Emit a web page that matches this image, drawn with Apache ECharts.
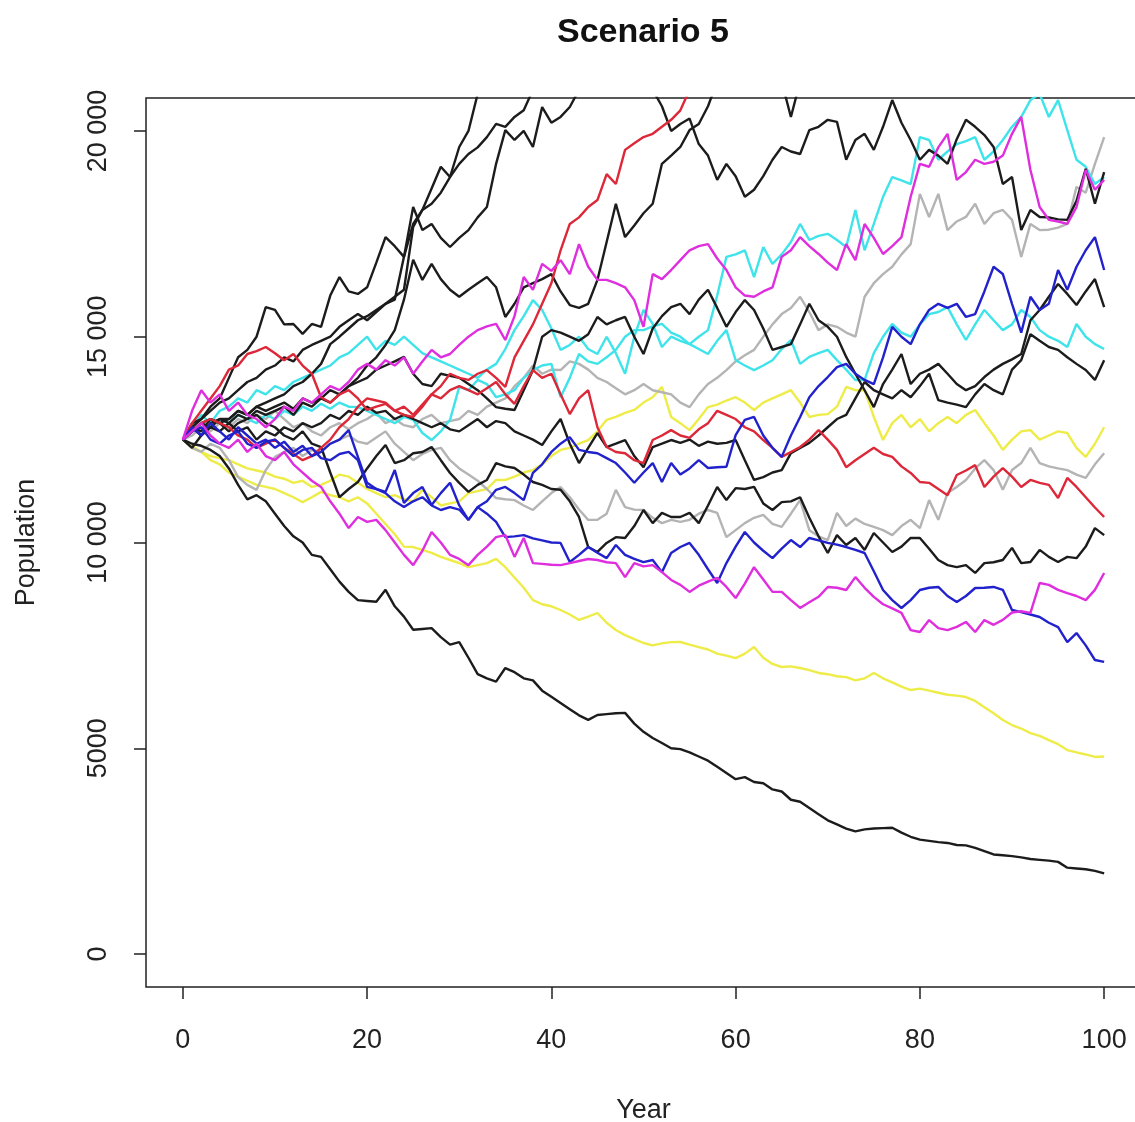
<!DOCTYPE html>
<html><head><meta charset="utf-8">
<script src="https://cdn.jsdelivr.net/npm/echarts@6/dist/echarts.min.js"></script>
<style>html,body{margin:0;padding:0;background:#fff}#c{width:1135px;height:1122px}</style>
</head><body><div id="c"></div>
<script>
const years = [0,1,2,3,4,5,6,7,8,9,10,11,12,13,14,15,16,17,18,19,20,21,22,23,24,25,26,27,28,29,30,31,32,33,34,35,36,37,38,39,40,41,42,43,44,45,46,47,48,49,50,51,52,53,54,55,56,57,58,59,60,61,62,63,64,65,66,67,68,69,70,71,72,73,74,75,76,77,78,79,80,81,82,83,84,85,86,87,88,89,90,91,92,93,94,95,96,97,98,99,100];
const xTicks = [0,20,40,60,80,100];
const yTicks = [0,5000,10000,15000,20000];

const blackA = [12500,12400,12350,12250,12100,11800,11400,11050,11150,11000,
10700,10400,10150,10000,9700,9650,9350,9050,8800,8600,
8580,8560,8850,8450,8200,7880,7900,7920,7700,7520,
7580,7200,6800,6700,6620,6950,6850,6700,6650,6400,
6250,6100,5950,5800,5690,5810,5830,5850,5860,5600,
5400,5250,5130,5000,4980,4900,4800,4700,4550,4400,
4250,4300,4180,4150,4000,3950,3750,3700,3550,3400,
3250,3150,3050,2980,3030,3050,3060,3070,2950,2850,
2780,2750,2720,2700,2650,2640,2580,2500,2420,2400,
2380,2350,2310,2290,2270,2240,2100,2080,2060,2020,
1960];
const yellowB = [12500,12300,12200,12000,11900,11700,11600,11500,11400,11350,
11300,11200,11100,10980,11100,11230,11150,11100,11000,11100,
10950,10700,10450,10200,9900,9890,9820,9750,9650,9575,
9500,9400,9450,9500,9600,9400,9150,8900,8600,8500,
8450,8360,8250,8117,8200,8287,8050,7873,7750,7650,
7558,7500,7550,7580,7582,7520,7460,7400,7300,7250,
7190,7300,7460,7200,7050,6975,6990,6950,6900,6830,
6800,6750,6730,6650,6700,6830,6700,6600,6500,6415,
6450,6400,6350,6300,6280,6245,6150,6000,5850,5686,
5565,5480,5370,5300,5200,5100,4957,4900,4850,4790,
4800];
const yellowC = [12500,12350,12200,12100,12050,12000,11900,11800,11750,11700,
11600,11550,11450,11500,11350,11400,11500,11650,11600,11450,
11300,11200,11100,11150,11050,11000,11280,11100,10900,10950,
11000,11200,11250,11300,11520,11520,11600,11700,11760,11900,
12100,12250,12300,12400,12490,12700,12980,13050,13150,13220,
13400,13530,13780,13050,12900,12730,13000,13290,13350,13450,
13530,13400,13220,13400,13500,13600,13700,13400,13050,13100,
13120,13300,13780,13700,13700,13050,12490,12900,13100,12800,
13000,12700,12900,13050,12900,13100,13220,12900,12600,12250,
12500,12700,12730,12500,12600,12700,12660,12300,12080,12400,
12800];
const blueD = [12500,12700,12800,12500,12400,12600,12700,12400,12300,12450,
12500,12300,12100,12250,12300,12050,12000,12150,12200,12000,
11350,11300,11200,11000,10860,11000,11100,10900,10790,10860,
10800,10550,10860,10700,10500,10130,10150,10180,10100,10050,
10000,9990,9525,9700,9890,9750,9620,9940,9700,9600,
9525,9575,9280,9745,9890,9990,9700,9350,9015,9500,
9900,10255,10000,9800,9620,9850,10060,9890,10110,10050,
9990,9950,9890,9820,9745,9300,8846,8600,8408,8600,
8846,8900,8920,8700,8554,8700,8894,8900,8920,8850,
8360,8310,8250,8190,8050,7946,7580,7800,7500,7145,
7100];
const blueE = [12500,12800,12600,12900,12700,12500,12800,12600,12400,12500,
12300,12450,12200,12350,12100,12200,12400,12500,12730,12080,
11450,11300,11230,11760,10960,11200,11350,10910,11200,11450,
10900,10550,10860,11000,11280,11350,11200,11030,11690,11900,
12200,12400,12560,12250,12200,12170,12050,11930,11700,11450,
11700,11930,11470,11930,11650,11800,12000,11810,11830,11840,
12610,12980,13050,12600,12300,12080,12600,13050,13530,13800,
14020,14260,14340,14100,13950,13850,14500,15240,15000,14820,
15300,15650,15800,15700,15800,15480,15550,16100,16700,16525,
15800,15100,15970,15650,15800,16620,16140,16700,17100,17420,
16620];
const magentaM1 = [12500,12700,12900,12600,12400,12300,12500,12200,12400,12100,
12000,12200,11900,11700,11500,11350,11000,10700,10350,10620,
10500,10550,10300,10000,9700,9450,9800,10255,10000,9700,
9600,9450,9700,9900,10130,10180,9650,10110,9500,9480,
9460,9450,9500,9550,9600,9575,9520,9500,9160,9500,
9420,9450,9280,9090,8970,8800,8950,9050,9140,8920,
8650,9000,9400,9100,8800,8800,8600,8410,8550,8680,
8920,8900,8846,9160,8900,8680,8500,8400,8290,7870,
7825,8115,7920,7870,7950,8070,7825,8115,8000,8120,
8300,8330,8290,9015,8970,8850,8770,8700,8600,8850,
9260];
const magentaM2 = [12500,13200,13700,13400,13600,13200,13400,13100,13000,12800,
13000,13300,13200,13500,13400,13600,13800,13700,13900,14200,
14340,14200,14430,14300,14500,14100,14400,14680,14500,14580,
14800,15000,15160,15250,15310,14920,15500,16450,16140,16770,
16600,16860,16520,17250,16700,16380,16380,16300,16200,15890,
15240,16520,16400,16620,16860,17100,17200,17250,16900,16620,
16200,16000,15970,16100,16200,16940,17100,17420,17200,17010,
16800,16620,17250,16860,17740,17400,17010,17200,17420,18400,
19200,19130,19600,19930,18810,19000,19300,19200,19250,19400,
19930,20340,19050,18150,17840,17800,17740,18150,19050,18570,
18810];
const redR1 = [12500,12700,12900,13000,12900,12800,12600,12500,12300,12400,
12500,12300,12150,12000,12100,12300,12500,12800,13000,13300,
13500,13450,13400,13200,13300,13100,13350,13600,13500,13700,
13800,13700,13600,13750,13900,13600,13370,13800,14190,14000,
14100,13600,13120,13500,13700,12800,12320,12200,12170,12000,
11930,12490,12600,12730,12600,12540,12750,12900,13200,13100,
13000,12800,12700,12490,12300,12080,12200,12320,12500,12730,
12500,12250,11830,12000,12150,12300,12150,12080,11850,11690,
11470,11450,11300,11150,11640,11750,11880,11350,11600,11810,
11600,11350,11520,11450,11400,11080,11570,11350,11100,10850,
10620];
const redR2 = [12500,12900,13200,13500,13800,14200,14300,14580,14650,14750,
14600,14430,14580,14300,14100,13530,13400,13600,13700,13500,
13220,13300,13370,13200,13100,13050,13300,13600,13800,14100,
14000,13950,14100,14190,14000,13780,14500,14900,15300,15800,
16300,17100,17740,17900,18150,18320,18950,18710,19540,19700,
19850,19930,20100,20270,20500,21000];
const grayG1 = [12500,12300,12200,12400,12300,12000,11590,11400,11280,11760,
12080,12200,12300,12100,12250,12200,12400,12500,12600,12450,
12400,12550,12700,12400,12200,12000,12150,12250,12300,12000,
11800,11650,11500,11300,11080,11050,11030,10900,10790,11000,
11200,11350,11100,10800,10550,10550,10700,11280,10860,10800,
10790,10600,10470,10550,10500,10550,10700,10790,10720,10130,
10300,10470,10600,10670,10450,10380,10700,11030,10300,10150,
10060,10720,10400,10580,10450,10380,10300,10180,10400,10550,
10350,11030,10550,11200,11350,11520,11800,12000,11760,11280,
11760,11930,12300,11930,11850,11800,11760,11650,11570,11900,
12170];
const grayG2 = [12500,12600,12800,12700,12900,12800,13000,12900,13100,13000,
13200,13000,12800,12900,12700,12600,12800,12900,12750,12900,
13000,13150,12900,13000,12850,12800,13000,13100,12900,12950,
13000,13200,13100,13300,13400,13500,13800,14000,14300,14100,
14200,14190,14400,14340,14200,14000,13900,13750,13600,13700,
13850,13700,13650,13600,13400,13290,13600,13850,14000,14190,
14400,14550,14680,15000,15300,15550,15700,15970,15600,15160,
15300,15240,15100,15000,15970,16300,16520,16700,17000,17250,
18470,17910,18470,17590,17800,17910,18230,17740,18000,18080,
17840,16940,17740,17590,17600,17650,17740,18640,18500,19200,
19850];
const cyanC1 = [12500,12800,13100,12900,13200,13300,13500,13400,13700,13600,
13800,13700,13900,14000,14100,14200,14300,14500,14600,14800,
15000,14680,14900,14800,15000,14800,14600,14500,14400,14300,
14200,14100,14000,14200,14340,14700,15160,15500,15890,15650,
15200,14680,14800,15000,14700,14580,15000,14600,14100,15000,
15650,15310,14750,15000,14900,14820,15000,15160,16000,16940,
17000,17100,16450,17180,16770,17000,17300,17740,17350,17450,
17500,17350,17180,18080,17100,17740,18400,18880,18800,18710,
19850,19780,19300,19500,19680,19750,19850,19300,19500,19780,
20100,20340,20750,20900,20340,20750,20020,19300,19130,18710,
18880];
const cyanC2 = [12500,12700,12900,12800,13000,12900,13100,13000,12900,13100,
13000,13200,13100,13300,13200,13370,13250,13400,13300,13290,
13200,13100,13000,12900,13050,12980,12660,12490,12700,12980,
13780,13700,13950,13850,13530,13600,13700,14000,14190,14300,
14340,13530,14000,14580,14400,14340,14500,14680,15000,15160,
15160,15250,15310,15100,15000,14820,14700,14580,14900,15160,
14430,14300,14190,14300,14430,14700,14920,14340,14510,14600,
14680,14430,14200,13950,13950,14600,15000,15310,15100,15000,
15300,15550,15600,15720,15300,14920,15300,15650,15400,15160,
15300,15650,15480,15160,15000,14900,14750,15310,15000,14820,
14700];
const blackK2 = [12500,12800,12700,13000,12900,12700,12900,13000,13100,12900,
12800,12600,12500,12700,12400,12320,11700,11100,11300,11470,
11800,12100,12370,11930,12000,12170,12200,12320,12000,11690,
11450,11230,11400,11520,11930,11850,11810,11650,11470,11400,
11300,11280,11000,10620,9890,9770,9990,10130,10110,10400,
10790,10470,10720,10620,10620,10720,10470,10900,11350,11030,
11320,11300,11350,10950,10790,10980,11000,11100,10600,10150,
9745,10180,9940,10110,9820,10230,10000,9770,9900,10110,
10110,9850,9575,9450,9400,9450,9260,9500,9520,9575,
9870,9500,9525,9820,9650,9525,9650,9620,9900,10350,
10180];
const blackK7 = [12500,12800,13000,13300,13500,14000,14500,14680,15000,15720,
15650,15300,15310,15070,15310,15240,16000,16450,16100,16040,
16200,16800,17420,17200,16940,17740,18080,18600,19130,18880,
19610,20000,20900];
const blackK8 = [12500,12900,13000,13200,13400,13500,13700,13900,14000,14200,
14300,14500,14400,14680,14800,14900,15000,15240,15400,15550,
15400,15600,15800,15970,16140,17670,18080,18230,18500,18880,
19200,19440,19600,19850,20170,20100,20340,20500,21000];
const blackK9 = [12500,12700,12900,13000,12900,13000,13200,13100,13300,13400,
13500,13600,13800,13900,14100,14340,14820,15000,15200,15400,
15500,15650,15800,15900,16940,18150,17590,17740,17400,17180,
17400,17590,17900,18150,19200,20020,19780,20000,19610,20580,
20200,20340,20580,21000,null,null,null,null,null,null,
null,21000,20600,20000,20170,20300,19680,19400,18810,19200,
18900,18400,18570,18900,19300,19610,19500,19440,20020,20100,
20270,20220,19300,19780,19930,19540,20100,20750,20200,19780,
19300,19540,19400,19200,19800,20270,20100,19900,19610,18710,
18880,17590,18080,17910,17900,17850,17840,18300,19080,18230,
19000];
const blackK10 = [12500,12800,12600,12900,13000,12900,13100,13000,13200,13100,
13200,13300,13100,13400,13300,13500,13400,13600,13800,14000,
14300,14500,14800,15160,15900,16870,16380,16770,16400,16140,
15970,16140,16300,16450,16200,15480,15800,16200,16300,16400,
16520,16100,15770,15700,15800,16380,17300,18230,17420,17700,
18000,18230,19200,19400,19610,20020,20170,20600,21200,null,
null,null,null,null,null,21200,20340,21200];
const blackK11 = [12500,12700,12900,12800,13000,13000,13200,13100,13300,13200,
13300,13400,13250,13500,13400,13500,13700,13600,13800,13900,
14000,14200,14300,14400,14510,14100,13850,13800,14100,14050,
14000,13850,13700,13500,13290,13250,13220,13700,14190,15000,
15160,15100,15000,14900,15060,15480,15300,15400,15480,15000,
14580,15200,15500,15720,15800,15550,15900,16140,15700,15240,
15600,15890,15650,15200,14680,14750,14820,15300,15800,15400,
15240,15000,14510,14100,13700,13290,13850,14200,14580,13850,
14100,14200,14340,14100,13850,13700,13800,14020,14200,14340,
14450,14580,15400,15650,15970,16280,16040,15770,16100,16400,
15720];
const blackK12 = [12500,12300,12600,12800,12700,12900,12700,12800,12500,12700,
12600,12800,12700,12900,12800,12900,13100,13000,13200,13100,
13300,13150,13200,13000,13100,13000,12900,12800,12900,12750,
12700,12850,13000,12800,12950,12900,12700,12600,12500,12370,
12700,13000,12400,11930,12300,12660,12320,12400,12490,12100,
11830,12320,12400,12490,12420,12500,12350,12450,12400,12420,
12490,12000,11520,11590,11700,11760,12170,12300,12420,12600,
12800,13000,13100,13500,13900,13700,13600,13500,13700,13530,
13800,14100,13460,13400,13350,13290,13600,13850,13700,13600,
14200,14430,15060,14900,14750,14680,14500,14340,14190,13950,
14430];

const BLACK = '#1c1c1c', RED = '#dc2838', BLUE = '#2222cc', CYAN = '#3ee4ea',
      MAGENTA = '#de2ede', YELLOW = '#eeec48', GRAY = '#b4b4b4';

const lines = [
  [yellowB, YELLOW], [yellowC, YELLOW], [grayG1, GRAY], [grayG2, GRAY],
  [cyanC2, CYAN], [cyanC1, CYAN],
  [blackA, BLACK], [blackK2, BLACK], [blackK12, BLACK], [blackK11, BLACK],
  [blackK7, BLACK], [blackK8, BLACK], [blackK9, BLACK], [blackK10, BLACK],
  [redR1, RED], [redR2, RED], [blueD, BLUE], [blueE, BLUE],
  [magentaM1, MAGENTA], [magentaM2, MAGENTA]
];

const FONT = 'Liberation Sans, Arial, Helvetica, sans-serif';
const fmtY = v => v >= 10000 ? String(v).replace(/(\d)(\d{3})$/, '$1 $2') : String(v);

const chart = echarts.init(document.getElementById('c'), null, {renderer: 'canvas'});
chart.setOption({
  animation: false,
  backgroundColor: '#ffffff',
  title: {
    text: 'Scenario 5', left: 638, top: 11, textAlign: 'center',
    textStyle: {fontFamily: FONT, fontWeight: 'bold', fontSize: 34, color: '#111'}
  },
  grid: {left: 146, top: 98, width: 995, height: 889, show: true,
         outerBoundsMode: 'none', containLabel: false,
         borderColor: '#222', borderWidth: 1.5, backgroundColor: 'transparent'},
  xAxis: {
    type: 'value', min: -4, max: 104,
    name: 'Year', nameLocation: 'middle', nameGap: 110,
    nameTextStyle: {fontFamily: FONT, fontSize: 27, color: '#222'},
    axisLine: {show: false, onZero: false},
    axisTick: {show: true, customValues: xTicks, length: 12, lineStyle: {color: '#222', width: 1.5}},
    axisLabel: {customValues: xTicks, margin: 40, fontFamily: FONT, fontSize: 27, color: '#222'},
    splitLine: {show: false}
  },
  yAxis: {
    type: 'value', min: -800, max: 20800,
    name: 'Population', nameLocation: 'middle', nameGap: 106,
    nameTextStyle: {fontFamily: FONT, fontSize: 27, color: '#222'},
    axisLine: {show: false, onZero: false},
    axisTick: {show: true, customValues: yTicks, length: 12, lineStyle: {color: '#222', width: 1.5}},
    axisLabel: {customValues: yTicks, rotate: 90, margin: 34, fontFamily: FONT, fontSize: 27,
                color: '#222', formatter: fmtY},
    splitLine: {show: false}
  },
  series: lines.map(([vals, col]) => ({
    type: 'line',
    data: vals.map((v, i) => [years[i], v]),
    symbol: 'none', showSymbol: false, silent: true, clip: true,
    connectNulls: false,
    lineStyle: {color: col, width: 2.4},
    itemStyle: {color: col}
  }))
});
</script>
</body></html>
